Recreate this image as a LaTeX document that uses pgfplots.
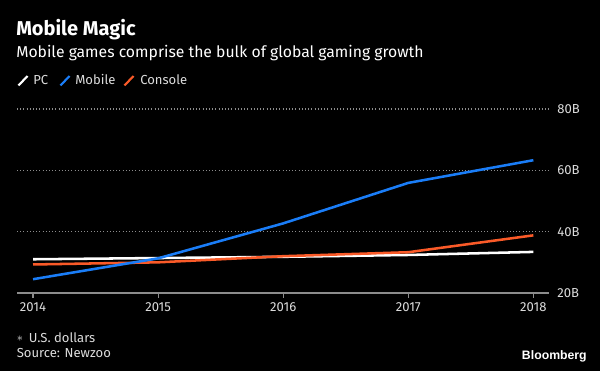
\documentclass[border=0pt]{standalone}
\usepackage{pgfplots}
\pgfplotsset{compat=1.18}
\usepackage{fontspec}
\setmainfont{Fira Sans}
\newfontfamily\bbfont{Liberation Sans}
\definecolor{mob}{HTML}{1A7DF7}
\definecolor{con}{HTML}{FA5A28}
\definecolor{gridc}{HTML}{8C8C8C}
\definecolor{txt}{HTML}{DCDCDC}
\begin{document}
\begin{tikzpicture}
\begin{scope}[x=0.75pt,y=0.75pt]
\fill[black] (0,0) rectangle (600,371);
\node[anchor=base west, inner sep=0, font=\bfseries\fontsize{15}{18}\selectfont, white] at (16,335.3) {Mobile Magic};
\node[anchor=base west, inner sep=0, font=\fontsize{11.8}{14}\selectfont, white] at (16,313.7) {Mobile games comprise the bulk of global gaming growth};
% legend
\draw[white, line width=1.6pt] (18.5,285.5) -- (27.5,295);
\node[anchor=base west, inner sep=0, font=\fontsize{9.8}{12}\selectfont, txt] at (33,286) {PC};
\draw[mob, line width=1.6pt] (60.5,285.5) -- (69.5,295);
\node[anchor=base west, inner sep=0, font=\fontsize{9.8}{12}\selectfont, txt] at (75,286) {Mobile};
\draw[con, line width=1.6pt] (124.5,285.5) -- (133.5,295);
\node[anchor=base west, inner sep=0, font=\fontsize{9.8}{12}\selectfont, txt] at (140,286) {Console};
% footer
\node[anchor=center, inner sep=0, font=\fontsize{9}{12}\selectfont, txt] at (20,32) {$\ast$};
\node[anchor=base west, inner sep=0, font=\fontsize{9.8}{12}\selectfont, txt] at (28.5,28.3) {U.S. dollars};
\node[anchor=base west, inner sep=0, font=\fontsize{9.8}{12}\selectfont, txt] at (16.5,13.7) {Source: Newzoo};
\node[anchor=base east, inner sep=0, font=\bbfont\bfseries\fontsize{9.2}{12}\selectfont, white] at (587,11) {Bloomberg};
\end{scope}
\begin{axis}[
  at={(12.75pt,58.5pt)}, anchor=south west,
  scale only axis, width=399pt, height=138pt,
  xmin=2013.872, xmax=2018.125, ymin=20, ymax=80,
  axis x line*=bottom, axis y line*=right,
  y axis line style={draw=none},
  x axis line style={gridc, line width=0.9pt},
  xtick={2014,2015,2016,2017,2018},
  xticklabel style={/pgf/number format/1000 sep={}, font=\fontsize{9.8}{12}\selectfont, txt},
  x tick style={gridc, line width=0.8pt},
  tick align=outside, major tick length=3.75pt,
  ytick={20,40,60,80},
  y tick style={draw=none},
  yticklabel={\pgfmathprintnumber{\tick}B},
  yticklabel style={anchor=west, xshift=-1pt, font=\fontsize{9.8}{12}\selectfont, txt},
  ymajorgrids, grid style={gridc, line width=0.8pt, dash pattern=on 0.8pt off 1.6pt},
  /pgf/number format/assume math mode=true,
  every axis plot/.append style={line width=1.9pt, no marks},
]
\addplot[white] coordinates {(2014,31.0) (2015,31.4) (2016,31.8) (2017,32.4) (2018,33.4)};
\addplot[con] coordinates {(2014,29.3) (2015,30.0) (2016,32.0) (2017,33.3) (2018,38.8)};
\addplot[mob] coordinates {(2014,24.5) (2015,31.3) (2016,42.7) (2017,55.9) (2018,63.3)};
\end{axis}
\end{tikzpicture}
\end{document}
